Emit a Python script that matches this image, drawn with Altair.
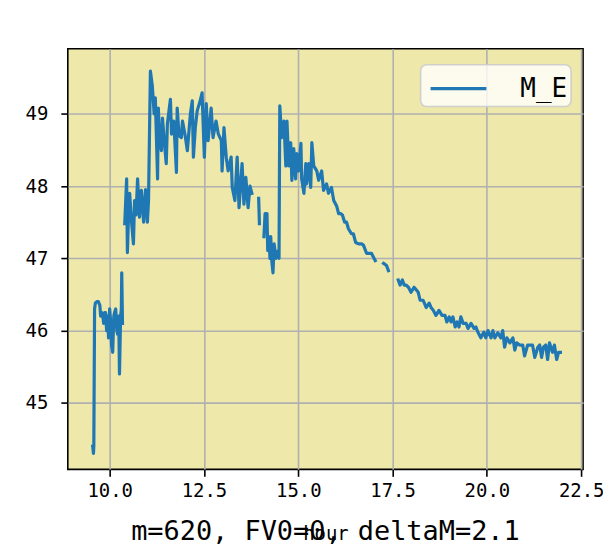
import altair as alt
import pandas as pd

# hour of day, None marks a break in the series
hours = [
    9.55, 9.57, 9.58, 9.60, 9.62, 9.66, 9.70, 9.74, 9.76, 9.79, 9.82, 9.84, 9.87, 9.89, 9.92, 9.95, 9.97,
    10.00, 10.03, 10.05, 10.08, 10.11, 10.13, 10.16, 10.19, 10.21, 10.24, 10.26, 10.29, 10.31, 10.32, 10.34,
    None,
    10.40, 10.45, 10.47, 10.50, 10.53, 10.58, 10.63, 10.66, 10.70, 10.74, 10.79, 10.84, 10.90, 10.95,
    11.00, 11.03, 11.08, 11.13, 11.18, 11.21, 11.27, 11.29, 11.32, 11.37, 11.40, 11.45, 11.50, 11.53,
    11.61, 11.64, 11.70, 11.77, 11.79, 11.84, 11.90, 11.93, 12.01, 12.06, 12.14, 12.19, 12.22, 12.27,
    12.32, 12.40, 12.45, 12.51, 12.56, 12.61, 12.69, 12.74, 12.82, 12.88, 12.96, 12.98, 13.03, 13.09,
    13.14, 13.22, 13.25, 13.32, 13.38, 13.43, 13.51, 13.56, 13.61, 13.67, 13.72, 13.77,
    None,
    13.95, 13.97,
    None,
    14.09, 14.12, 14.17, 14.19, 14.22, 14.25, 14.27, 14.30, 14.33, 14.36, 14.41, 14.46, 14.49,
    14.51, 14.56, 14.62, 14.67, 14.70, 14.75, 14.80, 14.83, 14.88, 14.93, 14.96, 15.01, 15.07, 15.09,
    15.15, 15.20, 15.22, 15.28, 15.33, 15.36, 15.41, 15.49, 15.54, 15.62, 15.67, 15.75, 15.80, 15.88,
    15.94, 16.02, 16.07, 16.12, 16.17, 16.23, 16.28, 16.33, 16.41, 16.46, 16.52, 16.60, 16.68, 16.73,
    16.81, 16.94, 17.04,
    None,
    17.26, 17.34, 17.39,
    None,
    17.65, 17.70, 17.76, 17.81, 17.86, 17.92, 17.99, 18.07, 18.18, 18.23, 18.31, 18.39, 18.47, 18.52,
    18.58, 18.65, 18.73, 18.81, 18.89, 18.94, 19.00, 19.05, 19.10, 19.16, 19.21, 19.26, 19.31, 19.37,
    19.45, 19.50, 19.58, 19.66, 19.71, 19.76, 19.84, 19.92, 19.97, 20.03, 20.11, 20.16, 20.21, 20.29,
    20.37, 20.42, 20.47, 20.53, 20.61, 20.69, 20.74, 20.79, 20.87, 20.95, 21.00, 21.08, 21.16, 21.21,
    21.27, 21.35, 21.40, 21.45, 21.50, 21.56, 21.61, 21.66, 21.74, 21.79, 21.85, 21.90, 21.95,
]

m_e = [
    44.40, 44.30, 44.40, 46.30, 46.38, 46.40, 46.40, 46.35, 46.20, 46.25, 46.20, 46.10, 46.25, 46.25, 46.00, 46.20, 45.90,
    46.30, 46.10, 45.80, 45.70, 46.20, 46.25, 46.30, 46.00, 45.95, 46.20, 45.40, 46.20, 46.30, 46.80, 46.10,
    None,
    47.48, 48.10, 47.08, 47.60, 47.90, 47.50, 47.20, 47.80, 47.60, 48.10, 47.57, 47.94, 47.50, 47.95,
    47.50, 47.80, 49.59, 49.39, 49.00, 49.22, 48.10, 49.08, 48.72, 48.49, 48.94, 48.60, 48.31, 48.86,
    49.20, 48.72, 48.90, 48.19, 49.08, 48.70, 48.67, 48.90, 48.67, 48.49, 49.00, 49.18, 48.40, 48.81,
    49.04, 49.18, 49.29, 48.40, 49.14, 48.63, 49.08, 48.67, 48.90, 48.72, 48.63, 48.21, 48.81, 48.40,
    48.21, 48.40, 47.98, 47.80, 48.40, 47.70, 48.31, 47.75, 48.12, 47.70, 48.00, 47.90,
    None,
    47.83, 47.48,
    None,
    47.30, 47.62, 47.62, 47.11, 47.30, 47.00, 47.30, 46.95, 46.80, 47.20, 47.00, 47.10, 47.00,
    49.11, 48.67, 48.90, 48.28, 48.90, 48.28, 48.60, 48.08, 48.52, 48.10, 48.45, 48.21, 48.59, 48.10,
    47.90, 48.31, 48.03, 48.31, 47.98, 48.60, 48.28, 48.21, 48.08, 48.21, 47.94, 48.03, 47.90, 47.98,
    47.80, 47.72, 47.62, 47.62, 47.60, 47.50, 47.50, 47.41, 47.34, 47.34, 47.22, 47.20, 47.20, 47.18,
    47.07, 47.07, 46.97,
    None,
    46.93, 46.90, 46.83,
    None,
    46.70, 46.63, 46.70, 46.63, 46.63, 46.60, 46.53, 46.60, 46.53, 46.42, 46.42, 46.32, 46.38, 46.32,
    46.28, 46.21, 46.28, 46.21, 46.21, 46.12, 46.19, 46.12, 46.19, 46.05, 46.12, 46.05, 46.19, 46.10,
    46.10, 46.03, 46.10, 46.03, 46.05, 45.98, 45.90, 45.98, 45.90, 46.00, 45.90, 46.00, 45.90, 45.97,
    45.90, 46.00, 45.77, 45.90, 45.83, 45.90, 45.73, 45.83, 45.80, 45.80, 45.65, 45.80, 45.80, 45.80,
    45.63, 45.77, 45.80, 45.63, 45.77, 45.80, 45.60, 45.83, 45.70, 45.80, 45.60, 45.70, 45.70,
]

series_name = "M_E"
x_ticks = [10.0, 12.5, 15.0, 17.5, 20.0, 22.5]
y_ticks = [45, 46, 47, 48, 49]
caption = "m=620, FV0=0, deltaM=2.1"

FONT = "DejaVu Sans Mono"
LINE_COLOR = "#1f77b4"

# split into contiguous pieces at the None markers
rows = []
seg = 0
for h, v in zip(hours, m_e):
    if h is None or v is None:
        seg += 1
        continue
    rows.append({"hour": h, "M_E": v, "seg": seg})
df = pd.DataFrame(rows)

W, H = 517, 422

line = alt.Chart(df).mark_line(
    strokeWidth=3.2, color=LINE_COLOR, clip=True, strokeCap="square", strokeJoin="round"
).encode(
    x=alt.X("hour:Q",
            scale=alt.Scale(domain=[8.89, 22.55], nice=False, zero=False),
            axis=alt.Axis(values=x_ticks, format=".1f", title="hour",
                          titleY=70, titleBaseline="alphabetic",
                          titleFontWeight="normal", titleFontSize=19,
                          labelPadding=5)),
    y=alt.Y("M_E:Q",
            scale=alt.Scale(domain=[44.08, 49.9], nice=False, zero=False),
            axis=alt.Axis(values=y_ticks, format="d", title=None, labelPadding=13)),
    detail="seg:N",
)

one = pd.DataFrame({"t": [series_name], "c": [caption]})

legend_box = alt.Chart(one).mark_rect(
    fill="white", fillOpacity=0.8, stroke="#cccccc", strokeOpacity=0.9,
    strokeWidth=1.6, cornerRadius=6
).encode(
    x=alt.value(354), x2=alt.value(505), y=alt.value(16), y2=alt.value(58)
)

legend_line = alt.Chart(one).mark_rule(
    color=LINE_COLOR, strokeWidth=3.2
).encode(
    x=alt.value(364), x2=alt.value(420), y=alt.value(40)
)

legend_text = alt.Chart(one).mark_text(
    font=FONT, fontSize=26, align="right", baseline="middle", color="black"
).encode(
    x=alt.value(501), y=alt.value(40), text="t:N"
)

cap = alt.Chart(one).mark_text(
    fontSize=27, font=FONT, align="center", baseline="alphabetic", color="black"
).encode(
    x=alt.value(W / 2), y=alt.value(H + 71), text="c:N"
)

chart = alt.layer(line, legend_box, legend_line, legend_text, cap).properties(
    width=W, height=H,
    autosize=alt.AutoSizeParams(type="none"),
    padding={"left": 60, "top": 40, "right": 20, "bottom": 78},
).configure_view(
    fill="#eee8aa", stroke="black", strokeWidth=1.6
).configure_axis(
    grid=True, gridColor="#b0b0b0", gridWidth=1.6,
    domain=False, tickColor="black", tickWidth=1.6, tickSize=7,
    labelFont=FONT, labelFontSize=19, labelColor="black",
    titleFont=FONT, titleColor="black",
)

chart.save("out.html", embed_options={"renderer": "svg", "actions": False})
